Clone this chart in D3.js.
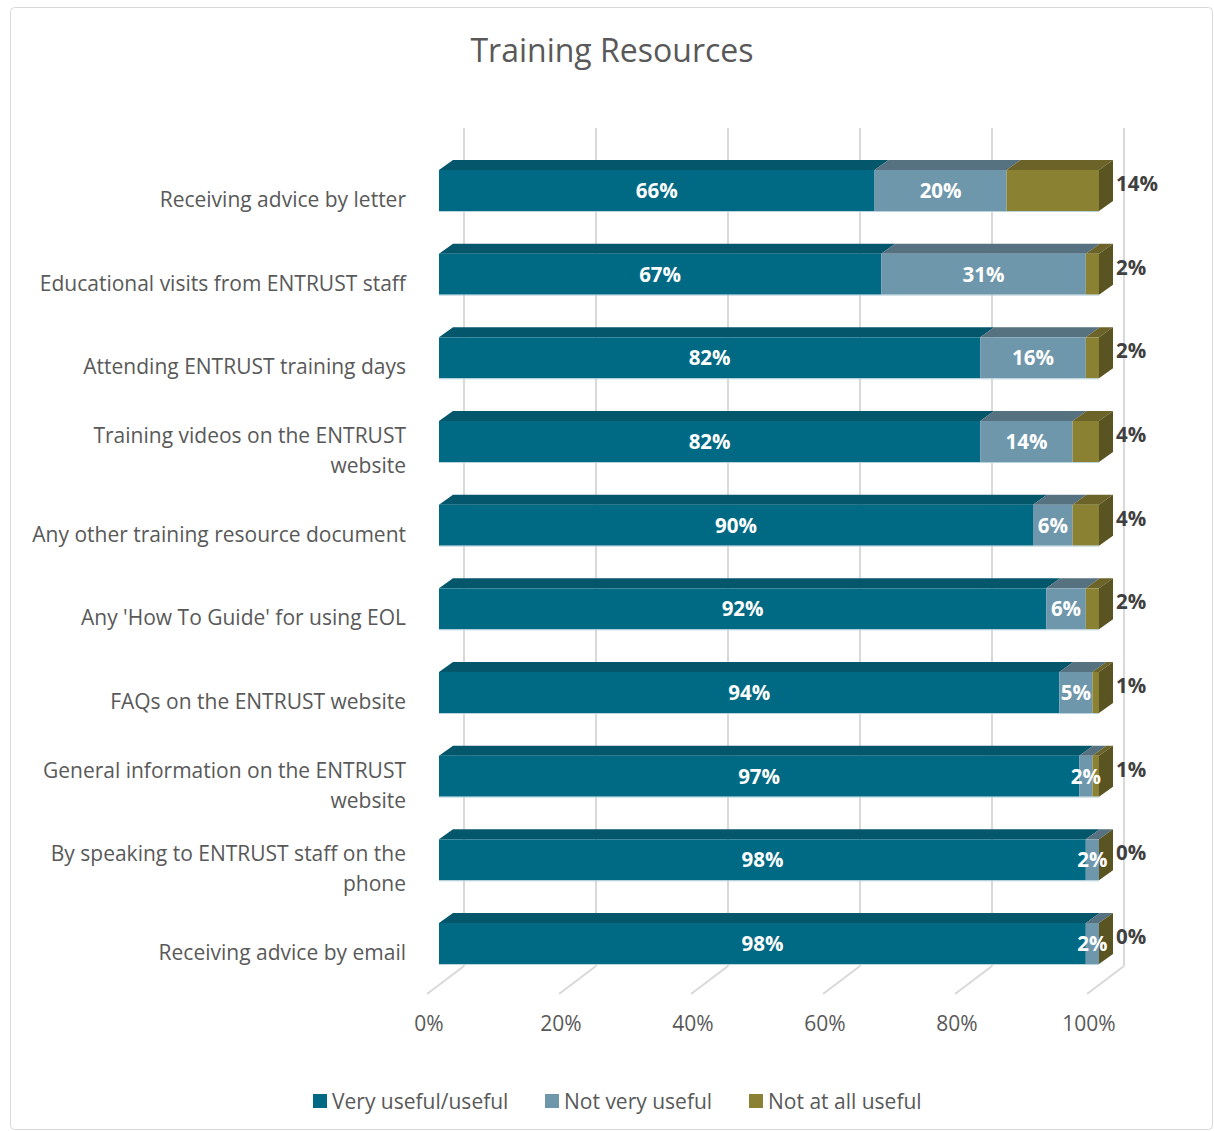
<!DOCTYPE html>
<html>
<head>
<meta charset="utf-8">
<script src="https://cdn.jsdelivr.net/npm/d3@7"></script>
<style>
  body { margin: 0; background: #fff; }
  text { font-family: "Open Sans", sans-serif; }
</style>
</head>
<body>
<div id="chart"></div>
<script>
// chart data
const categories = [
  "Receiving advice by letter",
  "Educational visits from ENTRUST staff",
  "Attending ENTRUST training days",
  "Training videos on the ENTRUST\nwebsite",
  "Any other training resource document",
  "Any 'How To Guide' for using EOL",
  "FAQs on the ENTRUST website",
  "General information on the ENTRUST\nwebsite",
  "By speaking to ENTRUST staff on the\nphone",
  "Receiving advice by email"
]
const seriesNames = ["Very useful/useful", "Not very useful", "Not at all useful"]
const veryUseful = [66, 67, 82, 82, 90, 92, 94, 97, 98, 98]
const notVeryUseful = [20, 31, 16, 14, 6, 6, 5, 2, 2, 2]
const notAtAll = [14, 2, 2, 4, 4, 2, 1, 1, 0, 0]
const ticks = [0, 20, 40, 60, 80, 100]

let width = 1214
let height = 1131

// front, top and side colours for each series
const frontCol = ["#006A84", "#6F97AC", "#8B8133"]
const topCol = ["#04566B", "#56717F", "#6C6328"]
const sideCol = "#5A5322"

// 3d offsets
const depth = {dx: 14, dy: 10}
const floor = {dx: 37, dy: 28}

let svg = d3.select("#chart")
  .append("svg")
  .attr("width", width)
  .attr("height", height)

// outer frame
svg.append("rect")
  .attr("x", 10.5).attr("y", 7.5)
  .attr("width", 1202).attr("height", 1122)
  .attr("rx", 4)
  .attr("fill", "#fff")
  .attr("stroke", "#D9D9D9")

svg.append("text")
  .attr("x", 612).attr("y", 62)
  .attr("text-anchor", "middle")
  .attr("font-size", 32)
  .attr("fill", "#595959")
  .text("Training Resources")

// x scale is the bar front plane
let x = d3.scaleLinear().domain([0, 100]).range([439, 1099])
let y = d3.scalePoint().domain(categories).range([190.5, 943.5])
let barH = 41

let gridTop = 128, gridBottom = 966
let backX = v => x(v) + 25
let floorX = v => x(v) + 25 - floor.dx

// gridlines on back wall and floor
let grid = svg.append("g")
  .attr("stroke", "#D9D9D9")
  .attr("stroke-width", 2)
  .attr("fill", "none")

grid.selectAll(".back")
  .data(ticks)
  .join("line")
  .attr("x1", d => backX(d)).attr("x2", d => backX(d))
  .attr("y1", gridTop).attr("y2", gridBottom)

grid.selectAll(".floor")
  .data(ticks)
  .join("line")
  .attr("x1", d => backX(d)).attr("y1", gridBottom)
  .attr("x2", d => floorX(d)).attr("y2", gridBottom + floor.dy)

svg.append("g")
  .selectAll("text")
  .data(ticks)
  .join("text")
  .attr("x", d => floorX(d) + 2)
  .attr("y", 1031)
  .attr("text-anchor", "middle")
  .attr("font-size", 21)
  .attr("fill", "#595959")
  .text(d => d + "%")

// build stacked rows
let rows = categories.map((c, i) => ({
  cat: c,
  vals: [veryUseful[i], notVeryUseful[i], notAtAll[i]]
}))

rows.forEach(r => {
  let acc = 0
  r.segs = r.vals.map((v, k) => {
    let s = {k: k, v: v, x0: acc, x1: acc + v}
    acc += v
    return s
  })
  r.total = acc
})

let bars = svg.append("g")
  .selectAll("g")
  .data(rows)
  .join("g")
  .attr("transform", d => `translate(0,${y(d.cat) - barH / 2})`)

// top faces
bars.selectAll(".top")
  .data(d => d.segs.filter(s => s.v > 0))
  .join("path")
  .attr("fill", s => topCol[s.k])
  .attr("d", s => {
    let a = x(s.x0), b = x(s.x1)
    return `M${a},0L${a + depth.dx},${-depth.dy}L${b + depth.dx},${-depth.dy}L${b},0Z`
  })

// front faces
bars.selectAll(".front")
  .data(d => d.segs.filter(s => s.v > 0))
  .join("rect")
  .attr("x", s => x(s.x0))
  .attr("y", 0)
  .attr("width", s => x(s.x1) - x(s.x0))
  .attr("height", barH)
  .attr("fill", s => frontCol[s.k])

// thin light edge along bottom
bars.append("line")
  .attr("x1", x(0)).attr("x2", d => x(d.total))
  .attr("y1", barH + 0.5).attr("y2", barH + 0.5)
  .attr("stroke", "#B9D3DC")
  .attr("stroke-width", 1)

// right side
bars.append("path")
  .attr("fill", sideCol)
  .attr("d", d => {
    let b = x(d.total)
    return `M${b},0L${b + depth.dx},${-depth.dy}L${b + depth.dx},${barH - depth.dy}L${b},${barH}Z`
  })

// inside labels for the first two series
bars.selectAll(".lab")
  .data(d => d.segs.filter(s => s.k < 2))
  .join("text")
  .attr("x", s => (x(s.x0) + x(s.x1)) / 2)
  .attr("y", barH / 2)
  .attr("dy", "0.36em")
  .attr("text-anchor", "middle")
  .attr("font-size", 20.5)
  .attr("font-weight", "bold")
  .attr("fill", "#fff")
  .text(s => s.v + "%")

// outside label for third series
bars.append("text")
  .attr("x", d => x(d.total) + 17)
  .attr("y", barH / 2 - 7)
  .attr("dy", "0.36em")
  .attr("font-size", 20.5)
  .attr("font-weight", "bold")
  .attr("fill", "#404040")
  .text(d => d.segs[2].v + "%")

// category labels
let catLab = svg.append("g")
  .selectAll("text")
  .data(categories)
  .join("text")
  .attr("text-anchor", "end")
  .attr("font-size", 21)
  .attr("fill", "#595959")

catLab.each(function (c) {
  let lines = c.split("\n")
  let t = d3.select(this)
  let lh = 30
  let cy = y(c) + 9 - (lines.length - 1) * lh / 2
  lines.forEach((l, i) => {
    t.append("tspan")
      .attr("x", 406)
      .attr("y", cy + i * lh)
      .attr("dy", "0.36em")
      .text(l)
  })
})

// legend
let legendX = [313, 545, 749]
let legend = svg.append("g")
  .selectAll("g")
  .data(seriesNames)
  .join("g")
  .attr("transform", (d, i) => `translate(${legendX[i]},1101)`)

legend.append("rect")
  .attr("x", 0).attr("y", -7)
  .attr("width", 14).attr("height", 14)
  .attr("fill", (d, i) => frontCol[i])

legend.append("text")
  .attr("x", 19)
  .attr("dy", "0.36em")
  .attr("font-size", 21)
  .attr("fill", "#595959")
  .text(d => d)
</script>
</body>
</html>
